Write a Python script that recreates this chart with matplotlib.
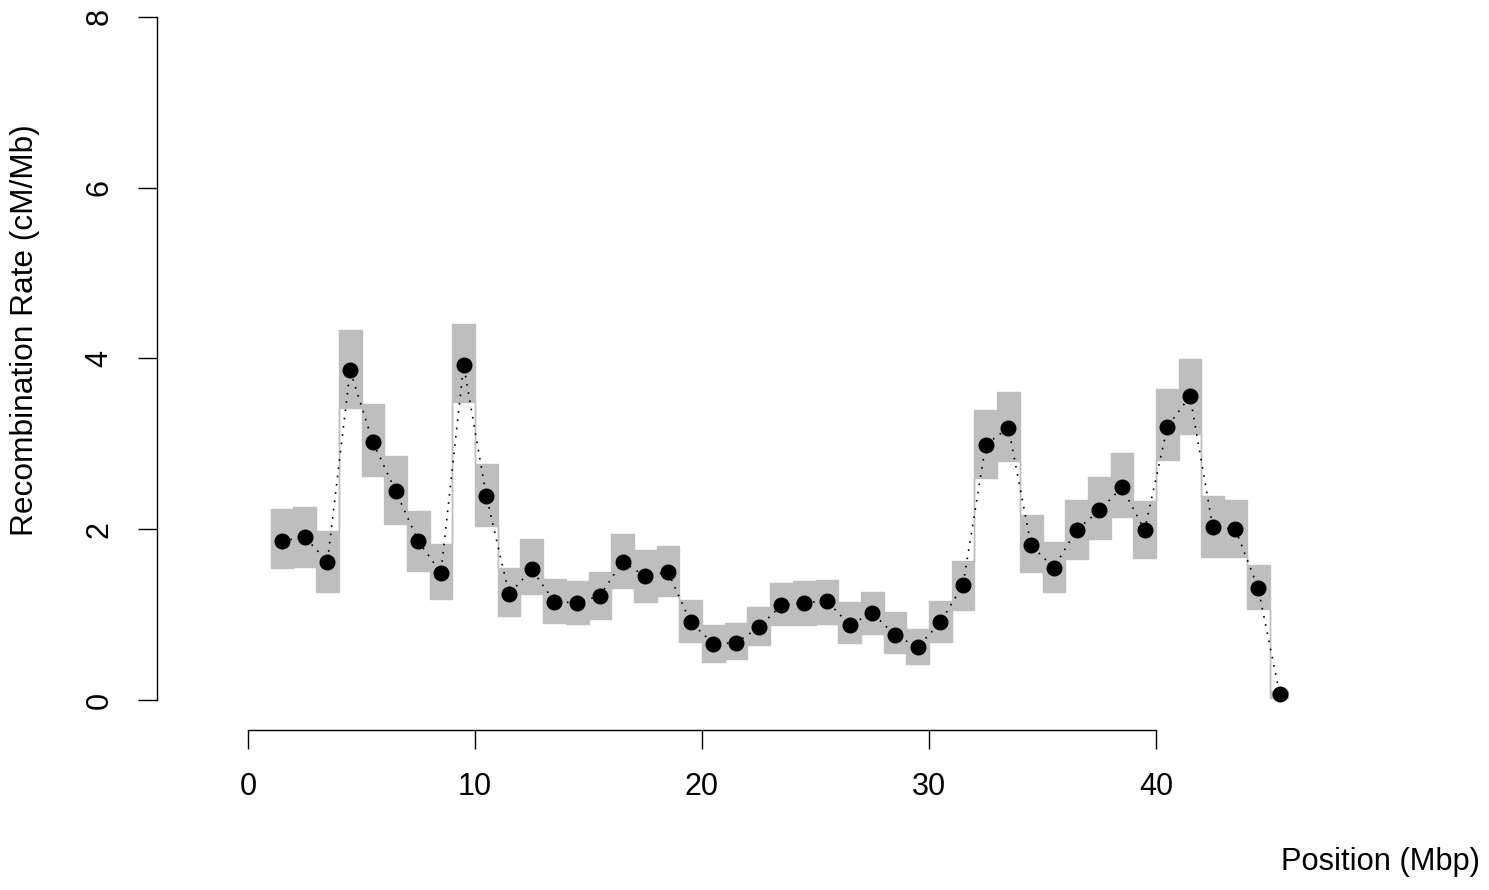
import numpy as np
import matplotlib
matplotlib.use("Agg")
import matplotlib.pyplot as plt

# --- data ---
# window edges (Mbp); the last window is a bit shorter
win_edges = [1, 2, 3, 4, 5, 6, 7, 8, 9, 10, 11, 12, 13, 14, 15, 16, 17, 18, 19, 20,
             21, 22, 23, 24, 25, 26, 27, 28, 29, 30, 31, 32, 33, 34, 35, 36, 37, 38, 39, 40,
             41, 42, 43, 44, 45, 45.8]
pos = [1.5, 2.5, 3.5, 4.5, 5.5, 6.5, 7.5, 8.5, 9.5, 10.5, 11.5, 12.5, 13.5, 14.5, 15.5,
       16.5, 17.5, 18.5, 19.5, 20.5, 21.5, 22.5, 23.5, 24.5, 25.5, 26.5, 27.5, 28.5, 29.5,
       30.5, 31.5, 32.5, 33.5, 34.5, 35.5, 36.5, 37.5, 38.5, 39.5, 40.5, 41.5, 42.5, 43.5,
       44.5, 45.45]
rate = [1.86, 1.91, 1.62, 3.86, 3.02, 2.45, 1.86, 1.49, 3.92, 2.39, 1.24, 1.53, 1.15, 1.14,
        1.22, 1.62, 1.45, 1.50, 0.91, 0.66, 0.67, 0.85, 1.11, 1.14, 1.16, 0.88, 1.02, 0.76,
        0.62, 0.91, 1.35, 2.99, 3.19, 1.81, 1.55, 1.99, 2.22, 2.49, 1.99, 3.20, 3.56, 2.03,
        2.00, 1.31, 0.07]
lower = [1.55, 1.56, 1.26, 3.42, 2.62, 2.06, 1.51, 1.18, 3.49, 2.04, 0.98, 1.24, 0.90, 0.89,
         0.95, 1.31, 1.15, 1.22, 0.68, 0.44, 0.48, 0.64, 0.88, 0.88, 0.89, 0.67, 0.77, 0.55,
         0.42, 0.68, 1.05, 2.60, 2.80, 1.50, 1.26, 1.65, 1.89, 2.14, 1.66, 2.81, 3.11, 1.68,
         1.67, 1.07, 0.02]
upper = [2.24, 2.26, 1.98, 4.33, 3.47, 2.86, 2.21, 1.83, 4.40, 2.76, 1.55, 1.89, 1.42, 1.39,
         1.50, 1.94, 1.76, 1.80, 1.17, 0.88, 0.90, 1.09, 1.37, 1.39, 1.41, 1.15, 1.26, 1.03,
         0.83, 1.16, 1.63, 3.40, 3.61, 2.17, 1.85, 2.34, 2.61, 2.89, 2.33, 3.64, 3.99, 2.39,
         2.34, 1.58, 0.10]

x_ticks = [0, 10, 20, 30, 40]
y_ticks = [0, 2, 4, 6, 8]

plt.rcParams['font.family'] = ['Liberation Sans', 'DejaVu Sans']

W, H = 1489, 890
fig = plt.figure(figsize=(W / 100, H / 100), dpi=100)

# axes placed in pixels to mimic the R layout
left_px, bottom_px = 157, 730
ax = fig.add_axes([left_px / W, (H - bottom_px) / H, (W - left_px) / W, bottom_px / H])

px_x = 22.7      # pixels per Mbp
px_y = 85.375    # pixels per cM/Mb
ax.set_xlim(-(248 - left_px) / px_x, (W - 248) / px_x)
ax.set_ylim(-(bottom_px - 700) / px_y, 8 + 17 / px_y)

# confidence band as a step polygon
lo = np.append(lower, lower[-1])
hi = np.append(upper, upper[-1])
ax.fill_between(win_edges, lo, hi, step='post', facecolor='#BEBEBE',
                edgecolor='#BEBEBE', linewidth=1.0, zorder=1)

ax.plot(pos, rate, color='black', linestyle=(0, (1, 4)), linewidth=1.2, zorder=2)
ax.plot(pos, rate, 'o', color='black', markersize=10.5, zorder=3)

# R-style detached axes
for s in ['top', 'right']:
    ax.spines[s].set_visible(False)
ax.spines['left'].set_bounds(0, 8)
ax.spines['bottom'].set_bounds(0, 40)
ax.spines['left'].set_linewidth(1.0)
ax.spines['bottom'].set_linewidth(1.0)

ax.set_xticks(x_ticks)
ax.set_yticks(y_ticks)
ax.tick_params(axis='both', length=13.5, width=1.0, labelsize=22)
ax.tick_params(axis='x', pad=17)
ax.tick_params(axis='y', pad=17)
for lab in ax.get_yticklabels():
    lab.set_rotation(90)
    lab.set_va('center')

ax.set_xlabel("Position (Mbp)", fontsize=22.2, ha='right', va='center')
ax.xaxis.set_label_coords((1480 - left_px) / (W - left_px), -(862 - bottom_px) / bottom_px)
ax.set_ylabel("Recombination Rate (cM/Mb)", fontsize=22.8, va='center')
ax.yaxis.set_label_coords(-(left_px - 25) / (W - left_px), (bottom_px - 330) / bottom_px)

fig.savefig("out.png", dpi=100)
